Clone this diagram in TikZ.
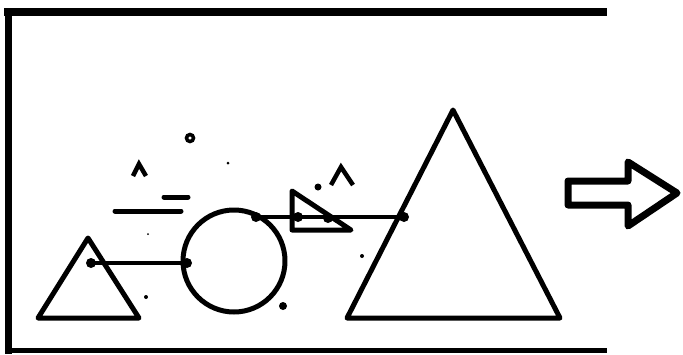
\documentclass[tikz,border=0pt]{standalone}
\usetikzlibrary{calc}

\tikzset{
  shape line/.style={line width=5pt, line join=round},
  link line/.style={line width=4pt},
  joint/.style={fill=black},
  mark caret/.style={line width=4.5pt, line join=miter},
}

\begin{document}
\begin{tikzpicture}[x=1pt, y=-1pt]
        \useasboundingbox (0,0) rectangle (683,354);

        % frame
        \draw[line width=8pt] (4,12) -- (607,12);
        \draw[line width=7pt] (8,8) -- (8,354);
        \draw[line width=5pt] (8,350) -- (607,350);

        % shapes
        \draw[shape line] (88,238) -- (38,318) -- (139,318) -- cycle;
        \draw[shape line] (234,261) circle (51);
        \draw[shape line] (292,191) -- (292,230) -- (351,230) -- cycle;
        \draw[shape line] (453,110) -- (347,318) -- (560,318) -- cycle;

        % joints
        \coordinate (jA) at (91,263);
        \coordinate (jB) at (187,263);
        \coordinate (jC) at (256,217);
        \coordinate (jD) at (298,217);
        \coordinate (jE) at (328,218);
        \coordinate (jF) at (404,217);
        \draw[link line] (jA) -- (jB);
        \draw[link line] (jC) -- (jF);
        \foreach \j in {jA,jB,jC,jD,jE,jF}
            \fill[joint] (\j) circle (5);

        % small marks
        \draw[line width=3.5pt] (190,138) circle (3.5);
        \draw[mark caret] (133,176) -- (139,164) -- (146,176);
        \draw[mark caret] (331,185) -- (341,167) -- (353,185);
        \draw[line width=5pt, line cap=round] (164,197) -- (188,197);
        \draw[line width=5pt, line cap=round] (115,211) -- (181,211);

        % dots
        \fill (283,306) circle (4);
        \fill (318,187) circle (3.5);
        \fill (146,297) circle (2);
        \fill (362,256) circle (2);
        \fill (228,163) circle (1.5);
        \fill (148,234) circle (1);

        % arrow
        \draw[line width=7pt, line join=round]
            (568,181) -- (628,181) -- (628,162) -- (677,193)
            -- (628,226) -- (628,205) -- (568,205) -- cycle;
    \end{tikzpicture}
\end{document}
